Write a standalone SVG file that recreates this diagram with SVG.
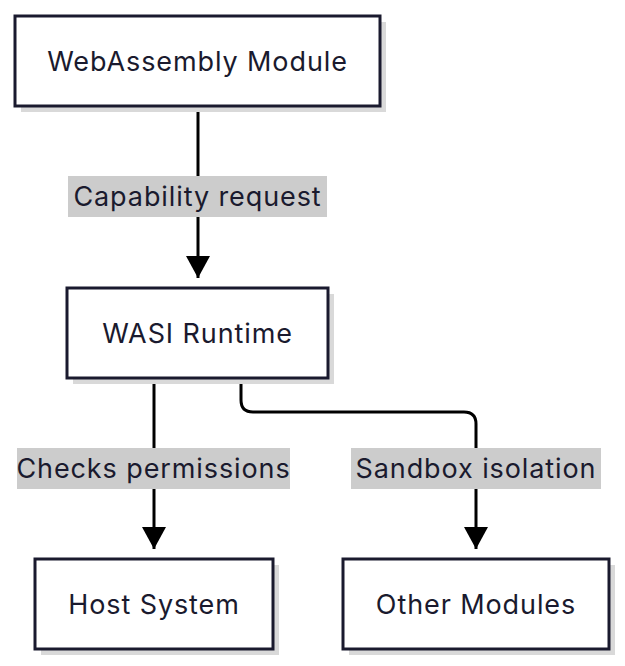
<svg xmlns="http://www.w3.org/2000/svg" width="625" height="666" viewBox="0 0 625 666">
<style>
.sh{fill:#d9d9d9}
.box{fill:#fff;stroke:#1a1a2e;stroke-width:3}
.t{font-family:Inter,"Noto Sans",sans-serif;font-size:27px;letter-spacing:0.9px;fill:#1a1a2e;text-anchor:middle;dominant-baseline:central}
.e{fill:none;stroke:#000;stroke-width:3}
.lb{fill:#cccccc}
</style>
<defs>
<marker id="ar" viewBox="0 0 24 22" refX="12" refY="22" markerWidth="24" markerHeight="22" markerUnits="userSpaceOnUse" orient="0"><path d="M0,0 L24,0 L12,22z" fill="#000"/></marker></defs>
<g id="edges">
<path class="e" d="M198,106 V278" marker-end="url(#ar)"/>
<path class="e" d="M154,378 V549" marker-end="url(#ar)"/>
<path class="e" d="M241,378 V400 Q241,412 253,412 H464 Q476,412 476,424 V549" marker-end="url(#ar)"/>
<rect class="lb" x="68" y="176" width="259" height="41"/><text class="t" x="197.5" y="196">Capability request</text>
<rect class="lb" x="17" y="448" width="273" height="41"/><text class="t" x="153.5" y="468">Checks permissions</text>
<rect class="lb" x="351" y="448" width="250" height="41"/><text class="t" x="476" y="468">Sandbox isolation</text>
</g>
<g id="wasm"><rect class="sh" x="21" y="22" width="365" height="90"/><rect class="box" x="15" y="16" width="365" height="90"/><text class="t" x="197.5" y="61">WebAssembly Module</text></g>
<g id="wasi"><rect class="sh" x="73" y="294" width="261" height="90"/><rect class="box" x="67" y="288" width="261" height="90"/><text class="t" x="197.5" y="333">WASI Runtime</text></g>
<g id="host"><rect class="sh" x="41" y="565" width="238" height="90"/><rect class="box" x="35" y="559" width="238" height="90"/><text class="t" x="154" y="604">Host System</text></g>
<g id="other"><rect class="sh" x="349" y="565" width="266" height="90"/><rect class="box" x="343" y="559" width="266" height="90"/><text class="t" x="476" y="604">Other Modules</text></g>
</svg>
